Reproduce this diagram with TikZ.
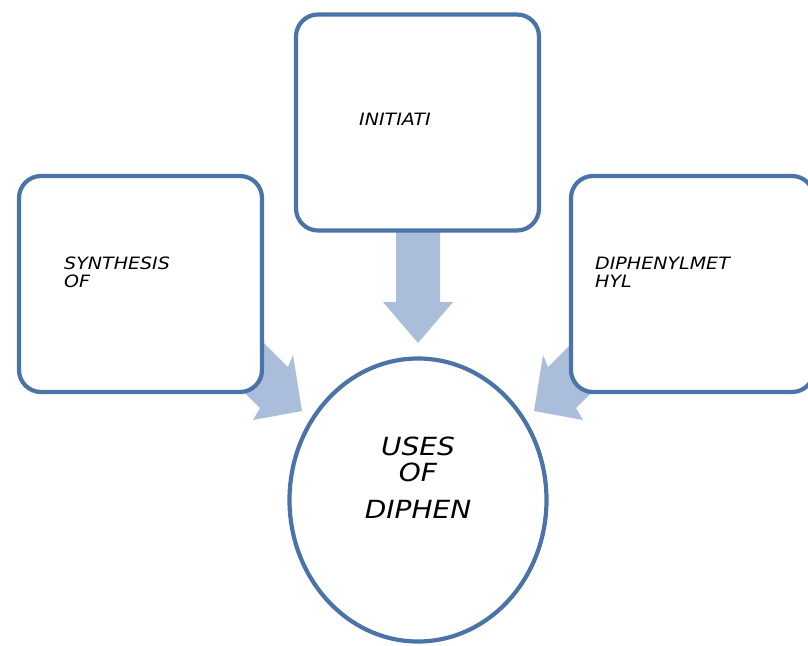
\documentclass[tikz,border=0pt]{standalone}
\usepackage{fontspec}
\newfontfamily\comic[FakeStretch=1.12]{DejaVu Sans}
\usetikzlibrary{shapes.geometric}
\definecolor{edgeblue}{RGB}{74,115,168}
\definecolor{arrowblue}{RGB}{170,190,219}
\tikzset{
  card/.style={draw=edgeblue, line width=4.2pt, fill=white, rounded corners=22pt,
    minimum width=243pt, minimum height=216pt, inner sep=0pt},
  hub/.style={draw=edgeblue, line width=4.2pt, fill=white, ellipse,
    minimum width=257pt, minimum height=283pt, inner sep=0pt},
  blockarrow/.style={fill=arrowblue, draw=none},
  smalltext/.style={font=\comic\itshape\fontsize{17}{18}\selectfont, align=left, inner sep=0pt},
  bigtext/.style={font=\comic\itshape\fontsize{25}{26}\selectfont, align=center, inner sep=0pt},
}
\begin{document}
\begin{tikzpicture}[x=1pt,y=-1pt]
\useasboundingbox (0,0) rectangle (808,645);
% block arrows (drawn first, boxes cover their tails)
\fill[blockarrow] (396,220) -- (440,220) -- (440,302) -- (453,302) -- (418,343) -- (383,302) -- (396,302) -- cycle;
\fill[blockarrow] (248,327) -- (288,367) -- (293,355) -- (302,411) -- (253,420) -- (260,408) -- (219,368) -- cycle;
\fill[blockarrow] (588,327) -- (548,367) -- (543,355) -- (534,411) -- (583,420) -- (576,408) -- (617,368) -- cycle;
% boxes
\node[card] (top) at (417.5,122.5) {};
\node[card] (left) at (140.5,284) {};
\node[card] (right) at (692.5,284) {};
\node[hub] (hubnode) at (418,500) {};
% texts
\node[smalltext, anchor=north west] (ttop) at (359,113) {INITIATI};
\node[smalltext, anchor=north west] (tleft) at (64,257) {SYNTHESIS\\OF};
\node[smalltext, anchor=north west] (tright) at (595,257) {DIPHENYLMET\\HYL};
\node[bigtext, anchor=north] (thub) at (418,437) {USES\\OF\\[11pt]DIPHEN};
\end{tikzpicture}
\end{document}
